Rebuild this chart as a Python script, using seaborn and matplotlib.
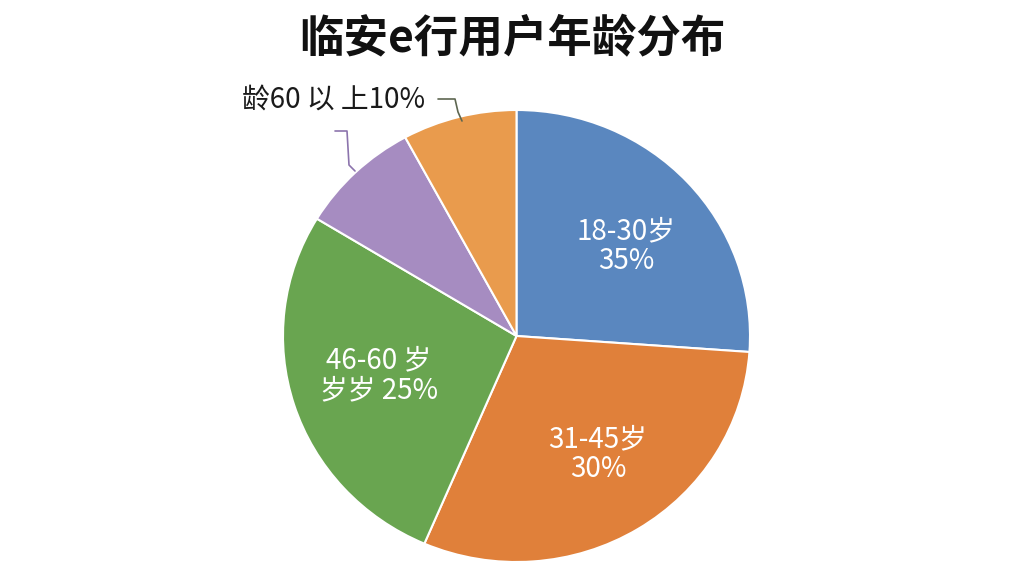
import matplotlib
matplotlib.use("Agg")
import matplotlib.pyplot as plt
import seaborn as sns

# slice sizes as drawn (degrees share of the circle) and their printed labels
groups = ["18-30岁", "31-45岁", "46-60岁", "60岁以上", "其他"]
shares = [26.1, 30.3, 27.2, 8.4, 7.9]
inner_labels = ["18-30岁\n35%", "31-45岁\n30%", "46-60 岁\n岁岁 25%"]
outer_label = "龄60 以 上10%"
colors = ["#5A87BF", "#E0803A", "#69A550", "#A68CC1", "#E99B4D"]

sns.set_theme(style="white")
plt.rcParams["font.family"] = ["Noto Sans CJK SC", "DejaVu Sans"]

W, H = 1024, 576
fig = plt.figure(figsize=(W / 100, H / 100), dpi=100)
fig.patch.set_facecolor("white")

# pie axes: centre (516, 336) px, radii 233 x 226 px
cx, cy, rx, ry = 516.5, 336, 233.5, 226
ax = fig.add_axes([(cx - rx) / W, (H - cy - ry) / H, 2 * rx / W, 2 * ry / H])
ax.pie(shares, colors=colors, startangle=90, counterclock=False, radius=1,
       wedgeprops=dict(edgecolor="white", linewidth=1.5))
ax.set_xlim(-1, 1)
ax.set_ylim(-1, 1)
ax.set_aspect("auto")
ax.axis("off")


def px(x, y):
    return x / W, 1 - y / H


fig.text(*px(512, 39), "临安e行用户年龄分布", ha="center", va="center",
         fontsize=32, fontweight="bold", color="#111111")

label_pos = [(626, 246), (598, 454), (379, 375)]
for (x, y), txt in zip(label_pos, inner_labels):
    fig.text(*px(x, y), txt, ha="center", va="center", fontsize=20,
             fontweight="medium", color="white", linespacing=1.0)

fig.text(*px(242, 100), outer_label, ha="left", va="center", fontsize=20,
         fontweight="medium", color="#1a1a1a")

# leader lines
fig.add_artist(plt.Line2D([438 / W, 455 / W, 458 / W, 462 / W],
                          [1 - 99 / H, 1 - 99 / H, 1 - 112 / H, 1 - 121 / H],
                          color="#5d6650", linewidth=1.2))
fig.add_artist(plt.Line2D([335 / W, 347 / W, 349 / W, 355 / W],
                          [1 - 131 / H, 1 - 131 / H, 1 - 165 / H, 1 - 171 / H],
                          color="#8c74ad", linewidth=1.2))

fig.savefig("out.png", dpi=100, facecolor="white")
